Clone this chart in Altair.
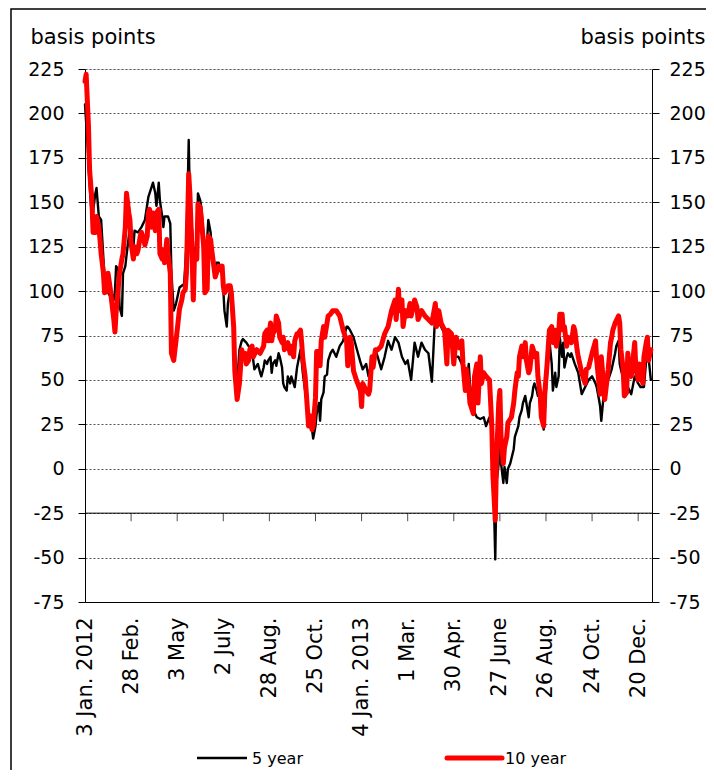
import json
import altair as alt
import pandas as pd

# ---------------- data ----------------
x_labels = ["3 Jan. 2012", "28 Feb.", "3 May", "2 July", "28 Aug.", "25 Oct.",
            "4 Jan. 2013", "1 Mar.", "30 Apr.", "27 June", "26 Aug.", "24 Oct.", "20 Dec."]
label_step = 40          # trading days between labelled ticks (category axis)
last_day = 492
tick_days = [i * label_step for i in range(len(x_labels))]
y_ticks = list(range(-75, 226, 25))

day_5y = [0, 2, 4, 6, 7, 9, 10, 12, 14, 16, 17, 19, 22, 23, 25, 26, 27, 29, 30, 32,
          33, 35, 36, 39, 42, 43, 46, 49, 52, 55, 56, 59, 61, 62, 64, 65, 67, 68, 69, 72,
          74, 75, 77, 79, 82, 84, 86, 88, 90, 91, 93, 94, 95, 97, 98, 100, 101, 103, 104, 106,
          107, 109, 110, 111, 113, 114, 116, 117, 119, 120, 121, 123, 124, 126, 127, 129, 130, 131, 132, 134,
          136, 137, 140, 142, 145, 146, 147, 150, 152, 153, 155, 156, 158, 159, 161, 162, 163, 165, 166, 168,
          169, 171, 172, 173, 175, 176, 178, 179, 181, 182, 184, 187, 188, 189, 191, 192, 194, 195, 197, 198,
          200, 201, 203, 204, 205, 207, 208, 210, 211, 213, 215, 218, 220, 221, 224, 227, 228, 230, 233, 236,
          239, 241, 244, 246, 249, 252, 254, 257, 260, 263, 266, 269, 272, 275, 278, 280, 283, 286, 289, 292,
          295, 298, 301, 304, 307, 309, 312, 315, 318, 321, 324, 327, 328, 331, 333, 334, 337, 340, 343, 346,
          348, 351, 353, 354, 356, 357, 359, 360, 361, 363, 364, 366, 367, 369, 372, 373, 375, 376, 377, 379,
          380, 382, 383, 385, 386, 388, 389, 390, 392, 393, 395, 398, 399, 401, 402, 403, 405, 406, 408, 409,
          411, 412, 414, 415, 416, 418, 419, 421, 422, 425, 428, 431, 434, 437, 440, 443, 444, 446, 447, 448,
          450, 451, 454, 457, 460, 461, 463, 464, 465, 468, 471, 474, 477, 480, 482, 485, 488, 491]
bp_5y = [205, 185, 160, 140, 145, 155, 158, 142, 140, 118, 108, 100, 97, 99, 95, 100, 114, 112, 91, 86,
         110, 114, 120, 136, 125, 134, 133, 136, 140, 153, 155, 161, 155, 148, 161, 151, 142, 136, 142, 142,
         138, 110, 89, 93, 102, 103, 104, 125, 185, 151, 134, 125, 120, 125, 155, 151, 147, 131, 121, 129,
         140, 133, 123, 118, 112, 116, 116, 114, 110, 101, 89, 80, 93, 101, 101, 84, 65, 54, 48, 67,
         72, 73, 71, 69, 67, 61, 56, 59, 54, 52, 57, 61, 59, 61, 63, 54, 59, 61, 58, 65,
         63, 57, 48, 46, 44, 52, 48, 52, 48, 46, 57, 67, 61, 54, 44, 39, 31, 26, 22, 17,
         24, 31, 37, 27, 39, 43, 52, 53, 61, 65, 67, 63, 67, 69, 72, 80, 80, 78, 74, 67,
         60, 56, 59, 52, 61, 67, 63, 56, 63, 72, 67, 74, 71, 63, 59, 61, 50, 71, 63, 71,
         67, 65, 49, 89, 82, 80, 76, 74, 71, 63, 63, 59, 56, 48, 59, 48, 33, 29, 28, 29,
         24, 29, 22, 3, -51, -8, 3, 14, 3, -8, 1, -8, 0, 3, 11, 18, 22, 24, 29, 33,
         37, 41, 37, 29, 37, 41, 46, 48, 44, 41, 41, 22, 33, 54, 65, 72, 59, 44, 54, 46,
         52, 74, 63, 71, 57, 63, 65, 63, 65, 59, 54, 42, 46, 50, 52, 48, 46, 39, 35, 27,
         41, 44, 50, 56, 65, 69, 72, 59, 56, 48, 46, 42, 52, 48, 46, 46, 69, 50]

day_10y = [0, 1, 3, 4, 6, 7, 9, 10, 12, 13, 14, 16, 17, 19, 20, 22, 23, 25, 26, 27,
           29, 30, 32, 33, 35, 36, 38, 39, 40, 42, 43, 45, 46, 48, 49, 51, 52, 54, 55, 56,
           58, 59, 61, 62, 64, 65, 67, 68, 69, 71, 72, 74, 75, 77, 80, 82, 84, 85, 87, 88,
           90, 91, 93, 94, 95, 97, 98, 100, 101, 103, 104, 106, 107, 109, 110, 111, 113, 114, 116, 117,
           119, 120, 121, 123, 124, 126, 127, 129, 130, 132, 134, 136, 137, 139, 140, 142, 143, 145, 146, 149,
           152, 155, 156, 158, 159, 161, 162, 163, 165, 166, 168, 169, 171, 172, 173, 175, 176, 178, 179, 181,
           182, 184, 185, 187, 188, 189, 191, 192, 194, 195, 197, 198, 200, 201, 203, 204, 205, 207, 208, 210,
           211, 213, 215, 218, 221, 224, 227, 228, 230, 231, 233, 236, 239, 240, 241, 244, 246, 247, 249, 250,
           252, 254, 257, 260, 263, 266, 269, 270, 272, 273, 275, 276, 278, 280, 282, 283, 286, 288, 289, 292,
           295, 298, 301, 304, 305, 307, 309, 312, 314, 315, 318, 320, 322, 325, 327, 328, 330, 331, 333, 334,
           337, 338, 340, 341, 343, 344, 346, 348, 351, 353, 354, 356, 357, 359, 360, 361, 363, 364, 366, 367,
           369, 370, 372, 373, 375, 376, 377, 379, 380, 382, 383, 385, 386, 388, 389, 390, 392, 393, 395, 396,
           398, 399, 401, 402, 403, 405, 406, 408, 409, 411, 412, 414, 415, 416, 418, 419, 422, 424, 425, 427,
           428, 431, 434, 435, 437, 440, 443, 444, 446, 447, 448, 451, 454, 456, 457, 458, 460, 463, 464, 465,
           467, 468, 470, 471, 472, 474, 477, 478, 480, 481, 482, 484, 485, 487, 488, 489, 491]
bp_10y = [218, 222, 193, 168, 151, 133, 133, 142, 136, 129, 121, 110, 99, 100, 110, 101, 95, 84, 77, 88,
          103, 110, 118, 121, 136, 155, 144, 140, 127, 118, 125, 121, 123, 131, 133, 129, 126, 131, 144, 146,
          136, 144, 134, 144, 146, 121, 118, 123, 116, 129, 121, 110, 65, 61, 78, 90, 95, 99, 101, 110,
          166, 155, 118, 95, 120, 118, 149, 147, 140, 125, 99, 101, 131, 129, 123, 118, 108, 110, 114, 112,
          114, 103, 99, 101, 103, 103, 99, 80, 55, 39, 48, 67, 63, 65, 59, 61, 67, 69, 63, 67,
          65, 69, 76, 78, 72, 82, 72, 76, 78, 86, 82, 74, 71, 74, 67, 69, 71, 65, 69, 63,
          72, 76, 76, 78, 71, 62, 52, 43, 24, 30, 22, 24, 40, 66, 66, 58, 72, 80, 74, 82,
          86, 87, 89, 89, 86, 78, 72, 58, 74, 71, 55, 49, 44, 35, 48, 44, 42, 44, 63, 57,
          67, 67, 69, 76, 80, 89, 95, 84, 101, 89, 95, 80, 89, 86, 93, 86, 95, 91, 84, 89,
          86, 84, 82, 93, 80, 89, 82, 78, 59, 78, 76, 59, 74, 68, 72, 59, 44, 56, 46, 37,
          31, 52, 59, 37, 63, 48, 54, 52, 50, 24, -4, -29, 3, 37, 44, 18, 3, 12, 18, 26,
          28, 29, 37, 44, 54, 52, 63, 69, 63, 71, 61, 54, 56, 69, 67, 63, 65, 52, 41, 29,
          24, 43, 59, 69, 78, 80, 71, 78, 69, 76, 87, 87, 78, 80, 69, 74, 71, 80, 78, 67,
          63, 54, 48, 56, 57, 65, 72, 61, 48, 42, 63, 39, 56, 71, 74, 78, 82, 86, 82, 67,
          56, 41, 43, 65, 56, 52, 71, 56, 50, 59, 56, 48, 63, 71, 74, 61, 67]

series_names = ["5 year", "10 year"]
series_colors = ["#000000", "#ff0000"]
series_widths = [2.4, 5]

# ---------------- chart ----------------
FONT = "DejaVu Sans"
W, H = 567, 533
y_scale = alt.Scale(domain=[-75, 225], nice=False, zero=False)
x_scale = alt.Scale(domain=[0, last_day], nice=False, zero=False)
plain_number = "'' + datum.value"   # ASCII hyphen for negatives, as in the reference

x_axis = alt.Axis(values=tick_days,
                  labelExpr=json.dumps(x_labels) + "[round(datum.value / %d)]" % label_step,
                  labelAngle=270, labelAlign="right", labelBaseline="middle",
                  labelFont=FONT, labelFontSize=21, labelColor="black",
                  labelPadding=15, labelOverlap=False, labelBound=False,
                  ticks=False, tickSize=0, grid=False,
                  domain=True, domainColor="black", domainWidth=1, title=None)

left_axis = alt.Axis(values=y_ticks, orient="left", title="basis points", labelExpr=plain_number,
                     titleAngle=0, titleAlign="left", titleBaseline="alphabetic",
                     titleX=-55, titleY=-26, titleFont=FONT, titleFontSize=21,
                     titleFontWeight="normal", titleColor="black",
                     labelFont=FONT, labelFontSize=19, labelColor="black", labelPadding=14,
                     tickSize=7, tickColor="black", domainColor="black",
                     grid=True, gridColor="#555555", gridDash=[2, 2], gridWidth=1)

right_axis = alt.Axis(values=y_ticks, orient="right", title="basis points", labelExpr=plain_number,
                      titleAngle=0, titleAlign="right", titleBaseline="alphabetic",
                      titleX=53, titleY=-26, titleFont=FONT, titleFontSize=21,
                      titleFontWeight="normal", titleColor="black",
                      labelFont=FONT, labelFontSize=19, labelColor="black", labelPadding=10,
                      tickSize=7, tickColor="black", domainColor="black", grid=False)

color_scale = alt.Scale(domain=series_names, range=series_colors)
width_scale = alt.Scale(domain=series_names, range=series_widths)

df5 = pd.DataFrame({"day": day_5y, "bp": bp_5y, "series": series_names[0]})
df10 = pd.DataFrame({"day": day_10y, "bp": bp_10y, "series": series_names[1]})


def line_layer(df, axis):
    return alt.Chart(df).mark_line(strokeJoin="round", strokeCap="round").encode(
        x=alt.X("day:Q", scale=x_scale, axis=x_axis),
        y=alt.Y("bp:Q", scale=y_scale, axis=axis),
        color=alt.Color("series:N", scale=color_scale, legend=None),
        strokeWidth=alt.StrokeWidth("series:N", scale=width_scale, legend=None),
    )


# legend (drawn as marks below the x-axis labels)
legend_layers = []
legend_x = [112, 362]
legend_y = 689
for i, name in enumerate(series_names):
    d = pd.DataFrame({"series": [name]})
    legend_layers.append(
        alt.Chart(d).mark_rule(strokeCap="round" if i else "butt").encode(
            x=alt.value(legend_x[i]), x2=alt.value(legend_x[i] + 50 + 5 * i),
            y=alt.value(legend_y),
            color=alt.Color("series:N", scale=color_scale, legend=None),
            strokeWidth=alt.StrokeWidth("series:N", scale=width_scale, legend=None)))
    legend_layers.append(
        alt.Chart(d).mark_text(align="left", baseline="middle", font=FONT,
                               fontSize=16, color="black").encode(
            x=alt.value(legend_x[i] + 55 + 3 * i), y=alt.value(legend_y + 1),
            text="series:N"))

frame = alt.Chart(pd.DataFrame({"k": [0]})).mark_rect(
    filled=False, stroke="black", strokeWidth=1.5).encode(
    x=alt.value(-74), x2=alt.value(W + 80), y=alt.value(-60), y2=alt.value(H + 300))

axis_line = alt.Chart(pd.DataFrame({"bp": [-25]})).mark_rule(color="black", strokeWidth=1).encode(
    y=alt.Y("bp:Q", scale=y_scale, axis=None))

ticks = alt.Chart(pd.DataFrame({"day": tick_days[1:], "bp": [-25] * (len(tick_days) - 1)})).mark_tick(
    orient="vertical", size=8, thickness=1, yOffset=4, color="black").encode(
    x=alt.X("day:Q", scale=x_scale, axis=x_axis),
    y=alt.Y("bp:Q", scale=y_scale, axis=right_axis))

chart = alt.layer(
    frame, axis_line, ticks,
    line_layer(df5, left_axis),
    line_layer(df10, None),
    *legend_layers,
).resolve_scale(y="independent").properties(
    width=W, height=H,
    autosize=alt.AutoSizeParams(type="none"),
    padding={"left": 77, "top": 61, "right": 54, "bottom": 168},
).configure_view(stroke=None).configure(font=FONT, background="white")

chart.save("out.html", embed_options={"renderer": "svg", "actions": False})
